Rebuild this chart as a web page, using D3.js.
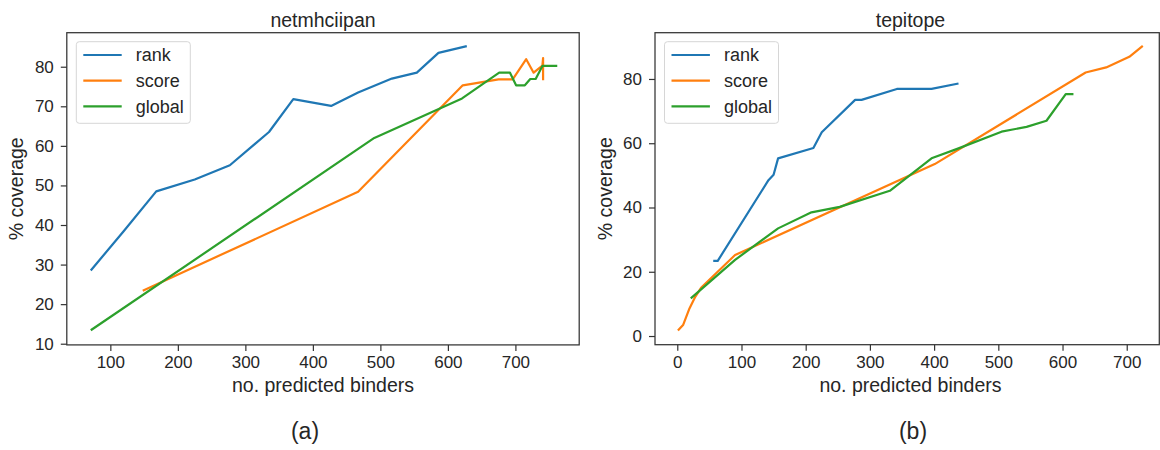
<html lang="en">
<head>
<meta charset="utf-8">
<title>coverage vs predicted binders</title>
<script src="https://d3js.org/d3.v7.min.js"></script>
<style type="text/css">
  body { margin: 0; background: #fff; }
  svg text { font-family: "Liberation Sans", Arial, sans-serif; fill: #262626; }
  .tick line { stroke: #333; stroke-width: 1.2; }
</style>
</head>
<body>
<script type="text/javascript">

// netmhciipan panel
var netRankX   = [71, 120, 168, 225, 277, 335, 371, 427, 467, 517, 554, 586, 628];
var netRankY   = [28.5, 38.5, 48.5, 51.5, 55.1, 63.5, 71.8, 70.1, 73.5, 77.0, 78.5, 83.5, 85.2];
var netScoreX  = [148, 467, 622, 675, 696, 716, 727, 740, 741, 741];
var netScoreY  = [23.4, 48.4, 75.3, 76.8, 76.8, 81.9, 78.5, 80.3, 82.2, 76.6];
var netGlobalX = [71, 491, 621, 676, 692, 701, 714, 722, 730, 740, 762];
var netGlobalY = [13.4, 62.0, 72.0, 78.5, 78.5, 75.3, 75.3, 76.9, 76.9, 80.2, 80.2];
var netXTicks  = [100, 200, 300, 400, 500, 600, 700];
var netYTicks  = [10, 20, 30, 40, 50, 60, 70, 80];

// tepitope panel
var tepRankX   = [56, 63, 142, 150, 157, 212, 225, 277, 287, 342, 396, 438];
var tepRankY   = [23.4, 23.4, 48.5, 50.2, 55.3, 58.5, 63.4, 73.5, 73.5, 76.9, 76.9, 78.6];
var tepScoreX  = [1, 9, 19, 28, 37, 90, 401, 636, 668, 704, 725];
var tepScoreY  = [1.7, 3.4, 8.6, 12.2, 15.0, 25.2, 53.5, 82.0, 83.6, 86.9, 90.3];
var tepGlobalX = [21, 90, 157, 209, 253, 331, 396, 438, 505, 544, 575, 605, 617];
var tepGlobalY = [11.7, 23.7, 33.5, 38.5, 40.2, 45.2, 55.3, 58.4, 63.6, 65.1, 67.0, 75.3, 75.3];
var tepXTicks  = [0, 100, 200, 300, 400, 500, 600, 700];
var tepYTicks  = [0, 20, 40, 60, 80];

var seriesNames  = ["rank", "score", "global"];
var seriesColors = ["#1f77b4", "#ff7f0e", "#2ca02c"];

var w = 1160, h = 450;

var svg = d3.select("body").append("svg")
  .attr("width", w)
  .attr("height", h);

function zip(xs, ys) {
  return xs.map(function(x, i) { return [x, ys[i]]; });
}

function drawPanel(p) {
  var x = d3.scaleLinear().domain(p.xDomain).range(p.xRange);
  var y = d3.scaleLinear().domain(p.yDomain).range(p.yRange);
  var g = svg.append("g");

  var left = p.xRange[0], top = p.yRange[1], bottom = p.yRange[0];
  var right = p.frameRight || p.xRange[1];

  // lines
  var line = d3.line().x(function(d) { return x(d[0]); }).y(function(d) { return y(d[1]); });
  p.series.forEach(function(s, i) {
    g.append("path")
      .datum(s)
      .attr("d", line)
      .attr("fill", "none")
      .attr("stroke", seriesColors[i])
      .attr("stroke-width", 2.2)
      .attr("stroke-linejoin", "round")
      .attr("stroke-linecap", "butt");
  });

  // axes
  var xAxis = g.append("g")
    .attr("transform", "translate(0," + bottom + ")")
    .call(d3.axisBottom(x).tickValues(p.xTicks).tickSize(6).tickSizeOuter(0).tickPadding(5));
  xAxis.select(".domain").remove();
  xAxis.selectAll("text").attr("font-size", "17px").style("fill", "#262626");

  var yAxis = g.append("g")
    .attr("transform", "translate(" + left + ",0)")
    .call(d3.axisLeft(y).tickValues(p.yTicks).tickSize(6).tickSizeOuter(0).tickPadding(7));
  yAxis.select(".domain").remove();
  yAxis.selectAll("text").attr("font-size", "17px").style("fill", "#262626");

  // frame
  g.append("rect")
    .attr("x", left).attr("y", top)
    .attr("width", right - left).attr("height", bottom - top)
    .attr("fill", "none")
    .attr("stroke", "#333")
    .attr("stroke-width", 1.25);

  var cx = (p.xRange[0] + p.xRange[1]) / 2;

  g.append("text")
    .attr("x", cx).attr("y", 27.3)
    .attr("text-anchor", "middle")
    .attr("font-size", "19.5px")
    .text(p.title);

  g.append("text")
    .attr("x", cx).attr("y", 391.5)
    .attr("text-anchor", "middle")
    .attr("font-size", "19.5px")
    .text("no. predicted binders");

  g.append("text")
    .attr("transform", "translate(" + (left - 43.5) + "," + ((top + bottom) / 2) + ") rotate(-90)")
    .attr("text-anchor", "middle")
    .attr("font-size", "19.5px")
    .text("% coverage");

  g.append("text")
    .attr("x", p.tagX).attr("y", 439)
    .attr("text-anchor", "middle")
    .attr("font-size", "23px")
    .text(p.tag);

  // legend
  var lg = g.append("g").attr("transform", "translate(" + (left + 9.5) + ",41.7)");
  lg.append("rect")
    .attr("width", 114).attr("height", 81.6)
    .attr("rx", 3)
    .attr("fill", "#fff").attr("fill-opacity", 0.8)
    .attr("stroke", "#d6d6d6").attr("stroke-width", 1);
  seriesNames.forEach(function(name, i) {
    var ry = 13.3 + i * 25.7;
    lg.append("line")
      .attr("x1", 7).attr("x2", 45.4)
      .attr("y1", ry).attr("y2", ry)
      .attr("stroke", seriesColors[i])
      .attr("stroke-width", 2.2);
    lg.append("text")
      .attr("x", 59.5).attr("y", ry)
      .attr("dy", "0.35em")
      .attr("font-size", "18px")
      .text(name);
  });
}

drawPanel({
  title: "netmhciipan", tag: "(a)", tagX: 305,
  xDomain: [35.5, 794.5], xRange: [66.8, 579.2],
  yDomain: [9.7, 88.6], yRange: [344.9, 32.7],
  xTicks: netXTicks, yTicks: netYTicks,
  series: [zip(netRankX, netRankY), zip(netScoreX, netScoreY), zip(netGlobalX, netGlobalY)]
});

drawPanel({
  title: "tepitope", tag: "(b)", tagX: 913,
  xDomain: [-34.7, 761], xRange: [655, 1165.9], frameRight: 1159.3,
  yDomain: [-2.7, 94.4], yRange: [344.7, 32.7],
  xTicks: tepXTicks, yTicks: tepYTicks,
  series: [zip(tepRankX, tepRankY), zip(tepScoreX, tepScoreY), zip(tepGlobalX, tepGlobalY)]
});

</script>
</body>
</html>
